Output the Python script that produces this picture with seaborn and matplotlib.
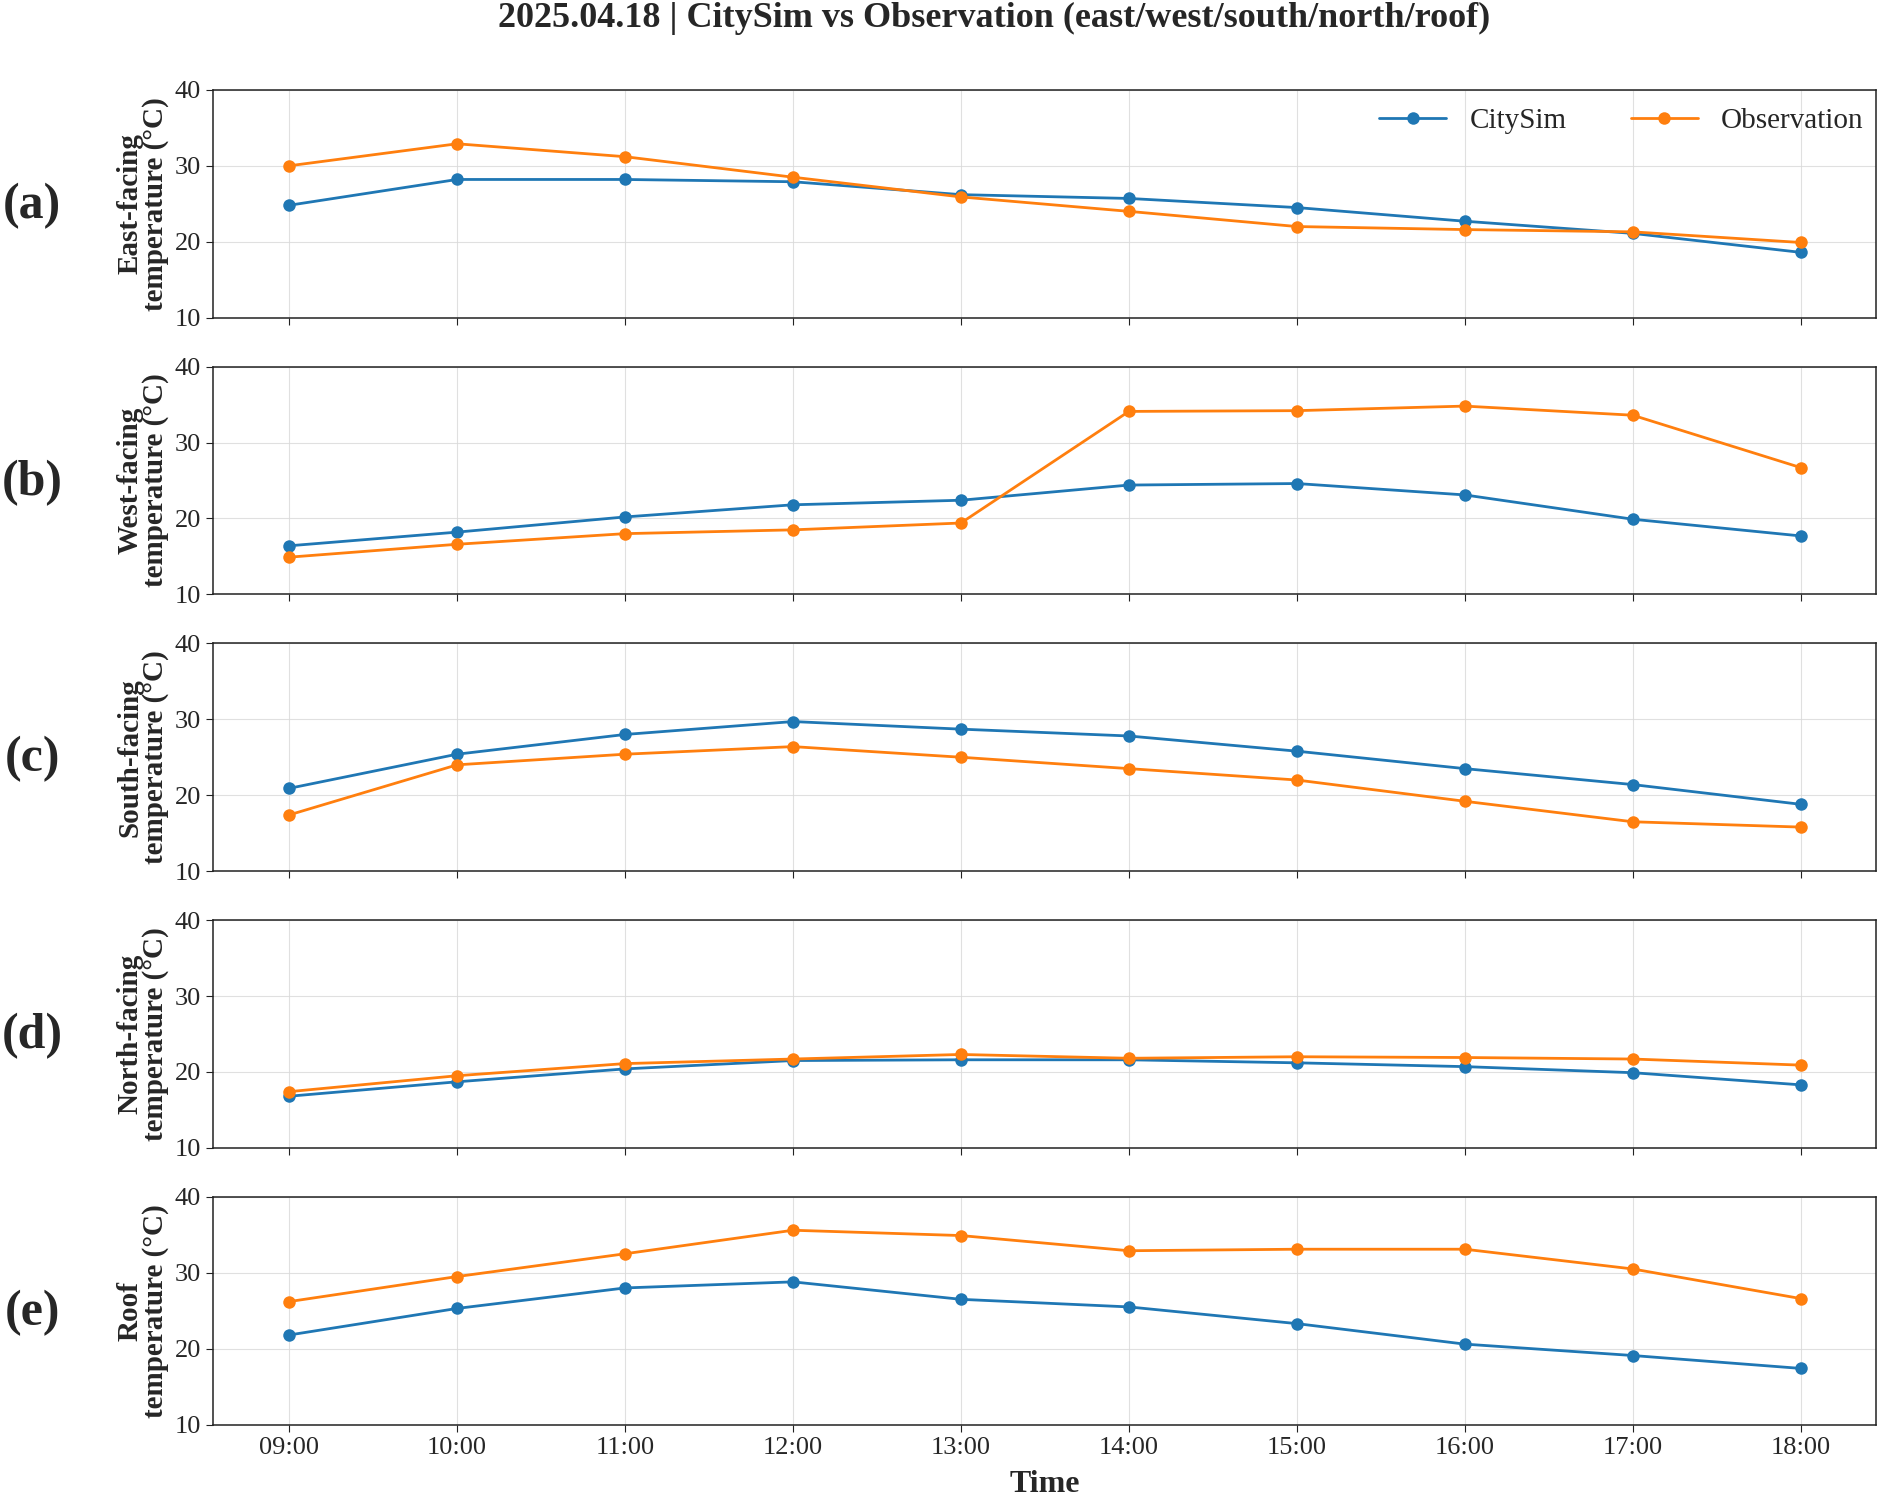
import matplotlib
matplotlib.use("Agg")
import matplotlib.pyplot as plt
import seaborn as sns
import pandas as pd

times = ["09:00", "10:00", "11:00", "12:00", "13:00", "14:00", "15:00", "16:00", "17:00", "18:00"]

east_citysim = [24.8, 28.2, 28.2, 27.9, 26.2, 25.7, 24.5, 22.7, 21.1, 18.6]
east_obs = [30.0, 32.9, 31.2, 28.5, 25.9, 24.0, 22.0, 21.6, 21.3, 19.9]
west_citysim = [16.4, 18.2, 20.2, 21.8, 22.4, 24.4, 24.6, 23.1, 19.9, 17.7]
west_obs = [14.9, 16.6, 18.0, 18.5, 19.4, 34.1, 34.2, 34.8, 33.6, 26.7]
south_citysim = [20.9, 25.4, 28.0, 29.7, 28.7, 27.8, 25.8, 23.5, 21.4, 18.8]
south_obs = [17.4, 24.0, 25.4, 26.4, 25.0, 23.5, 22.0, 19.2, 16.5, 15.8]
north_citysim = [16.8, 18.7, 20.4, 21.5, 21.6, 21.6, 21.2, 20.7, 19.9, 18.3]
north_obs = [17.4, 19.5, 21.1, 21.7, 22.3, 21.8, 22.0, 21.9, 21.7, 20.9]
roof_citysim = [21.8, 25.3, 28.0, 28.8, 26.5, 25.5, 23.3, 20.6, 19.1, 17.4]
roof_obs = [26.2, 29.5, 32.5, 35.6, 34.9, 32.9, 33.1, 33.1, 30.5, 26.6]

panels = ["(a)", "(b)", "(c)", "(d)", "(e)"]
ylabels = ["East-facing\ntemperature (°C)", "West-facing\ntemperature (°C)",
           "South-facing\ntemperature (°C)", "North-facing\ntemperature (°C)",
           "Roof\ntemperature (°C)"]
sim_series = [east_citysim, west_citysim, south_citysim, north_citysim, roof_citysim]
obs_series = [east_obs, west_obs, south_obs, north_obs, roof_obs]
yticks = [10, 20, 30, 40]

sns.set_style("ticks")
plt.rcParams['font.family'] = ['Liberation Serif', 'DejaVu Serif']
plt.rcParams['mathtext.fontset'] = 'stix'

fig, axes = plt.subplots(5, 1, figsize=(18.81, 14.98), dpi=100, sharex=True)
fig.subplots_adjust(left=0.1135, right=0.9975, top=0.94, bottom=0.049, hspace=0.215)

blue = "#1f77b4"
orange = "#ff7f0e"

for i, ax in enumerate(axes):
    df = pd.DataFrame({
        "x": list(range(len(times))) * 2,
        "y": sim_series[i] + obs_series[i],
        "Source": ["CitySim"] * len(times) + ["Observation"] * len(times),
    })
    sns.lineplot(data=df, x="x", y="y", hue="Source", palette=[blue, orange],
                 marker="o", markersize=9, markeredgewidth=0, linewidth=2.0,
                 ax=ax, legend=(i == 0))
    ax.set_ylim(10, 40)
    ax.set_yticks(yticks)
    ax.set_xlim(-0.45, len(times) - 1 + 0.45)
    ax.set_xticks(range(len(times)))
    ax.set_xticklabels(times)
    ax.grid(True, color="#d9d9d9", linewidth=0.8, alpha=0.8)
    ax.set_ylabel(ylabels[i], fontsize=21, fontweight="bold", linespacing=0.9, labelpad=4)
    ax.set_xlabel("")
    ax.tick_params(axis="both", labelsize=19, length=5, color="#222222", pad=4)
    for s in ax.spines.values():
        s.set_color("#222222")
        s.set_linewidth(1.1)
    ax.text(-0.109, 0.49, panels[i], transform=ax.transAxes, fontsize=36,
            fontweight="bold", ha="center", va="center")
    if i == 0:
        ax.legend(loc="upper right", ncol=2, frameon=False, fontsize=21,
                  handlelength=2.3, columnspacing=2.2, borderaxespad=0.2,
                  bbox_to_anchor=(1.003, 1.0))

axes[-1].set_xlabel("Time", fontsize=23, fontweight="bold", labelpad=8)
fig.suptitle("2025.04.18 | CitySim vs Observation (east/west/south/north/roof)",
             fontsize=26, fontweight="bold", x=0.5285, y=0.999)

fig.savefig("out.png", dpi=100)
